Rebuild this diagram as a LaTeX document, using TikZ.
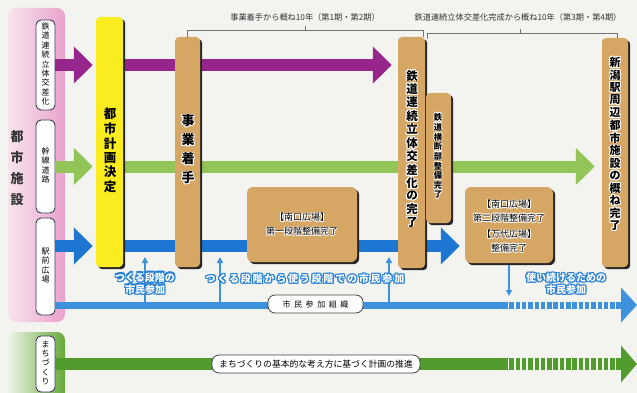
\documentclass[tikz,border=0pt]{standalone}
\usepackage{fontspec}
\setmainfont{Noto Sans CJK JP}
\usetikzlibrary{arrows.meta,shadows}
\definecolor{bgc}{RGB}{243,244,240}
\definecolor{purp}{RGB}{150,38,140}
\definecolor{lgreen}{RGB}{146,196,88}
\definecolor{blu}{RGB}{28,118,210}
\definecolor{lblu}{RGB}{62,145,220}
\definecolor{halob}{RGB}{40,128,212}
\definecolor{dgreen}{RGB}{82,155,45}
\definecolor{yel}{RGB}{250,236,30}
\definecolor{tanc}{RGB}{214,166,100}
\definecolor{pinkA}{RGB}{248,228,238}
\definecolor{pinkB}{RGB}{234,162,204}
\definecolor{grnA}{RGB}{238,245,230}
\definecolor{grnB}{RGB}{104,168,58}
\definecolor{outl}{RGB}{55,58,90}
\newcommand\stk[1]{\begin{tabular}{@{}c@{}}#1\end{tabular}}
\newcommand\halo[4]{%
  \leavevmode\hbox{%
    \rlap{\kern#3\relax\textcolor{#1}{#4}}%
    \rlap{\kern-#3\relax\textcolor{#1}{#4}}%
    \rlap{\raisebox{#3}{\textcolor{#1}{#4}}}%
    \rlap{\raisebox{-#3}{\textcolor{#1}{#4}}}%
    \rlap{\kern#3\relax\raisebox{#3}{\textcolor{#1}{#4}}}%
    \rlap{\kern-#3\relax\raisebox{#3}{\textcolor{#1}{#4}}}%
    \rlap{\kern#3\relax\raisebox{-#3}{\textcolor{#1}{#4}}}%
    \rlap{\kern-#3\relax\raisebox{-#3}{\textcolor{#1}{#4}}}%
    \textcolor{#2}{#4}}}
\tikzset{
  lbl/.style={draw=outl, fill=white, rounded corners=5pt, line width=0.9pt, minimum width=19pt, inner sep=0pt, font=\fontsize{8}{9.1}\selectfont},
  bar/.style={rounded corners=4pt, inner sep=0pt, drop shadow={shadow xshift=2.2pt, shadow yshift=-2.2pt, fill=black!85, opacity=1}},
  ybar/.style={bar, fill=yel},
  tbar/.style={bar, fill=tanc},
  tbox/.style={bar, fill=tanc, rounded corners=6pt},
  fat/.style={line width=12pt, -{Triangle[width=36pt,length=19pt]}},
  parr/.style={fat, draw=purp},
  garr/.style={fat, draw=lgreen},
  barr/.style={fat, draw=blu},
  thinarr/.style={draw=lblu, line width=1.3pt, -{Triangle[width=6pt,length=6pt]}},
  orgl/.style={draw=lblu, line width=7pt},
  mach/.style={draw=dgreen, line width=12pt},
  tag/.style={draw=black!75, fill=white, rounded corners=7pt, line width=0.8pt, inner sep=0pt, minimum height=18pt},
  brk/.style={draw=black!55, line width=0.7pt},
  brklbl/.style={inner sep=0pt, font=\fontsize{8.2}{9}\selectfont, text=black!80},
  btxt/.style={inner sep=0pt},
  bluetxt/.style={inner sep=0pt, font=\bfseries\fontsize{10}{11.5}\selectfont},
}
\begin{document}
\begin{tikzpicture}[x=1pt,y=-1pt]
\useasboundingbox (0,0) rectangle (637,393);
\fill[bgc] (0,0) rectangle (637,393);
% side panels
\path[left color=pinkA, right color=pinkB, rounded corners=8pt] (8,8) rectangle (65,322);
\path[left color=grnA, right color=grnB, rounded corners=8pt] (8,332) rectangle (65,400);
\node[btxt, font=\bfseries\fontsize{13}{21}\selectfont, text=black!80] (toshisetsu) at (17,169) {\stk{都\\市\\施\\設}};
% left labels
\node[lbl, minimum height=90pt] (l1) at (45.5,65) {\stk{鉄\\道\\連\\続\\立\\体\\交\\差\\化}};
\node[lbl, minimum height=93pt] (l2) at (45.5,166.5) {\stk{幹\\線\\道\\路}};
\node[lbl, minimum height=97pt] (l3) at (45.5,266.5) {\stk{駅\\前\\広\\場}};
\node[lbl, minimum height=56pt] (l4) at (45.5,364) {\stk{ま\\ち\\づ\\く\\り}};
% bar positions needed for arrows
\path (109.5,142) node[minimum width=27pt, minimum height=250pt, inner sep=0pt] (toshi) {};
\path (411.5,152.5) node[minimum width=27pt, minimum height=231pt, inner sep=0pt] (tetsu) {};
\path (615,152.5) node[minimum width=26pt, minimum height=229pt, inner sep=0pt] (niigata) {};
\path (509,225) node[minimum width=88pt, minimum height=76pt, inner sep=0pt] (box2) {};
% thick arrows
\coordinate (bl) at ([yshift=20.5pt]l3.east);
\draw[parr, shorten >=3pt] (l1.east) -- (l1.east -| toshi.west);
\draw[parr, shorten >=6pt] (l1.east -| toshi.center) -- (l1.east -| tetsu.west);
\draw[garr, shorten >=3pt] (l2.east) -- (l2.east -| toshi.west);
\draw[garr, shorten >=7pt] (l2.east -| toshi.center) -- (l2.east -| niigata.west);
\draw[barr, shorten >=3pt] (bl) -- (bl -| toshi.west);
\draw[barr, shorten >=5pt] (bl -| toshi.center) -- (bl -| box2.west);
% citizen organisation line
\coordinate (oA) at ([yshift=-38.5pt]l3.east);
\coordinate (oB) at (503,305);
\coordinate (oC) at (637,305);
\draw[orgl] (oA) -- (oB);
\draw[orgl, dash pattern=on 4.5pt off 1.8pt, -{Triangle[width=34pt,length=16pt]}] (oB) -- (oC);
% machizukuri line
\coordinate (mB) at (503,364);
\coordinate (mC) at (637,364);
\draw[mach] (l4.east) -- (mB);
\draw[mach, dash pattern=on 4.5pt off 1.8pt, -{Triangle[width=36pt,length=16pt]}] (mB) -- (mC);
% thin arrows
\coordinate (u1) at (145,257);
\coordinate (u2) at (220,257);
\coordinate (u3) at (389,257);
\draw[thinarr] (u1 |- oB) -- (u1);
\draw[thinarr] (u2 |- oB) -- (u2);
\draw[thinarr] (u3 |- oB) -- (u3);
\draw[thinarr] (box2.south) -- (box2.south |- 0,296);
% bars
\node[ybar, minimum width=27pt, minimum height=250pt] (toshiB) at (109.5,142) {};
\node[btxt, font=\bfseries\fontsize{12.5}{13.4}\selectfont] (toshiT) at (110,152) {\stk{都\\市\\計\\画\\決\\定}};
\node[tbar, minimum width=25pt, minimum height=230pt] (jig) at (187.5,152) {};
\node[btxt, font=\bfseries\fontsize{13}{19}\selectfont] (jigT) at (188,150.5) {\halo{white}{black}{0.8pt}{\stk{事\\業\\着\\手}}};
\node[tbar, minimum width=27pt, minimum height=231pt] (tetsuB) at (411.5,152.5) {};
\node[btxt, font=\bfseries\fontsize{11.5}{12.1}\selectfont] (tetsuT) at (412,150) {\halo{white}{black}{0.8pt}{\stk{鉄\\道\\連\\続\\立\\体\\交\\差\\化\\の\\完\\了}}};
\node[tbar, minimum width=25pt, minimum height=130pt] (oudan) at (438.5,158) {};
\node[btxt, font=\bfseries\fontsize{8.3}{8.9}\selectfont] (oudanT) at (438,157) {\halo{white}{black}{0.6pt}{\stk{鉄\\道\\横\\断\\部\\整\\備\\完\\了}}};
\node[tbar, minimum width=26pt, minimum height=229pt] (niigataB) at (615,152.5) {};
\node[btxt, font=\bfseries\fontsize{11}{11.4}\selectfont] (niigataT) at (615,145) {\halo{white}{black}{0.8pt}{\stk{新\\潟\\駅\\周\\辺\\都\\市\\施\\設\\の\\概\\ね\\完\\了}}};
\node[tbox, minimum width=110pt, minimum height=75pt] (box1) at (302,224.5) {};
\node[btxt, font=\fontsize{9}{14}\selectfont] (box1T) at (302,225) {\halo{white}{black}{0.7pt}{\stk{【南口広場】\\第一段階整備完了}}};
\node[tbox, minimum width=88pt, minimum height=76pt] (box2B) at (509,225) {};
\node[btxt, font=\fontsize{9}{13.5}\selectfont] (box2T) at (509,227) {\halo{white}{black}{0.7pt}{\stk{【南口広場】\\第二段階整備完了\\[3pt]【万代広場】\\整備完了}}};
% blue outlined labels
\node[bluetxt] (b1) at (145,284.5) {\halo{halob}{white}{1.1pt}{\stk{つくる段階の\\市民参加}}};
\node[bluetxt] (b2) at (305,279) {\halo{halob}{white}{1.1pt}{\addfontfeature{LetterSpace=18}つくる段階から使う段階での市民参加}};
\node[bluetxt] (b3) at (566,285) {\halo{halob}{white}{1.1pt}{\stk{使い続けるための\\市民参加}}};
% tags on lines
\node[tag, minimum width=95pt, font=\fontsize{8}{9}\selectfont] (orgT) at (315.5,304) {\addfontfeature{LetterSpace=45}市民参加組織};
\node[tag, minimum width=208pt, font=\fontsize{8.8}{10}\selectfont] (machiT) at (316,364) {まちづくりの基本的な考え方に基づく計画の推進};
% brackets
\node[brklbl] (br1) at (305,17) {事業着手から概ね10年（第1期・第2期）};
\node[brklbl] (br2) at (518,17) {鉄道連続立体交差化完成から概ね10年（第3期・第4期）};
\coordinate (k0) at (423,37);
\coordinate (k1) at (427,39);
\coordinate (k2) at (617,38);
\draw[brk] (jig.north) -- (jig.north |- 0,30) -- (k0 |- 0,30) -- (k0);
\draw[brk] (br1.south |- 0,30) -- ++(0,-4);
\draw[brk] (k1) -- (k1 |- 0,33) -- (k2 |- 0,33) -- (k2);
\draw[brk] (520,33) -- ++(0,-4);
\end{tikzpicture}
\end{document}
